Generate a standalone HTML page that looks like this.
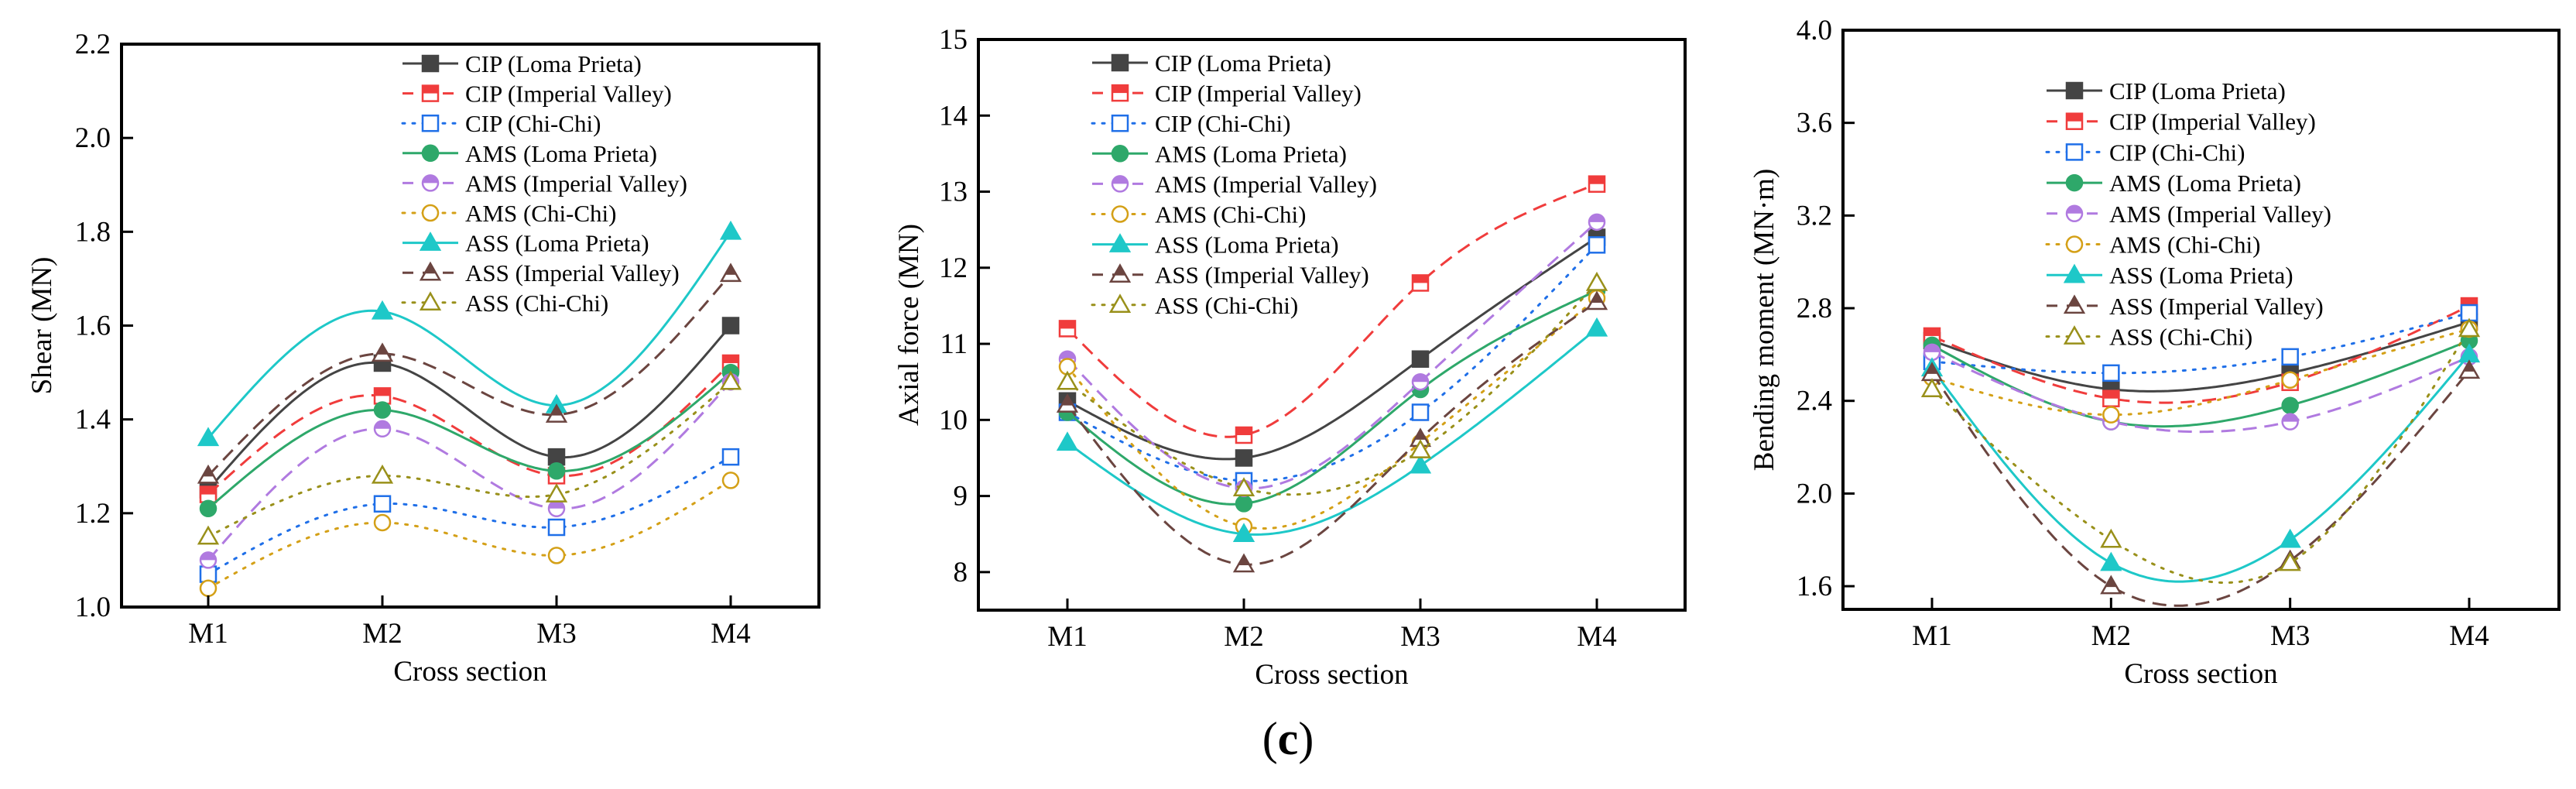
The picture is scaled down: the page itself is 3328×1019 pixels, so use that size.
<!DOCTYPE html>
<html><head><meta charset="utf-8">
<style>
html,body{margin:0;padding:0;background:#fff;}
svg{display:block;font-family:"Liberation Serif","Times New Roman",serif;}
svg text{font-family:"Liberation Serif","Times New Roman",serif;}
</style></head>
<body>
<svg id="fig" width="3328" height="1019" viewBox="0 0 3328 1019" font-family="Liberation Serif, serif"></svg>
<script>
const categories = ["M1","M2","M3","M4"];
const seriesNames = ["CIP (Loma Prieta)","CIP (Imperial Valley)","CIP (Chi-Chi)","AMS (Loma Prieta)","AMS (Imperial Valley)","AMS (Chi-Chi)","ASS (Loma Prieta)","ASS (Imperial Valley)","ASS (Chi-Chi)"];
// Shear (MN)
const shearCipLP = [1.25,1.52,1.32,1.60];
const shearCipIV = [1.24,1.45,1.28,1.52];
const shearCipCC = [1.07,1.22,1.17,1.32];
const shearAmsLP = [1.21,1.42,1.29,1.50];
const shearAmsIV = [1.10,1.38,1.21,1.48];
const shearAmsCC = [1.04,1.18,1.11,1.27];
const shearAssLP = [1.36,1.63,1.43,1.80];
const shearAssIV = [1.28,1.54,1.41,1.71];
const shearAssCC = [1.15,1.28,1.24,1.48];
const shearTicks = ["1.0","1.2","1.4","1.6","1.8","2.0","2.2"];
// Axial force (MN)
const axialCipLP = [10.25,9.5,10.8,12.4];
const axialCipIV = [11.2,9.8,11.8,13.1];
const axialCipCC = [10.1,9.2,10.1,12.3];
const axialAmsLP = [10.1,8.9,10.4,11.7];
const axialAmsIV = [10.8,9.1,10.5,12.6];
const axialAmsCC = [10.7,8.6,9.7,11.6];
const axialAssLP = [9.7,8.5,9.4,11.2];
const axialAssIV = [10.2,8.1,9.75,11.55];
const axialAssCC = [10.5,9.1,9.6,11.8];
const axialTicks = ["8","9","10","11","12","13","14","15"];
// Bending moment (MN·m)
const bendCipLP = [2.66,2.45,2.52,2.74];
const bendCipIV = [2.68,2.41,2.48,2.81];
const bendCipCC = [2.57,2.52,2.59,2.78];
const bendAmsLP = [2.64,2.31,2.38,2.66];
const bendAmsIV = [2.61,2.31,2.31,2.59];
const bendAmsCC = [2.50,2.34,2.49,2.71];
const bendAssLP = [2.54,1.70,1.80,2.60];
const bendAssIV = [2.52,1.60,1.71,2.53];
const bendAssCC = [2.45,1.80,1.70,2.71];
const bendTicks = ["1.6","2.0","2.4","2.8","3.2","3.6","4.0"];

const NS="http://www.w3.org/2000/svg";
const svg=document.getElementById('fig');
const colors=["#444444","#f03c3c","#1f6fe8","#2ea86a","#b07ae0","#d4a017","#1ec8c8","#6b4540","#99901a"];
const dashes=["","18,10","3,10","","18,10","3,10","","18,10","3,10"];
const shapes=["sq","sq","sq","ci","ci","ci","tr","tr","tr"];
const fills=["full","half","open","full","half","open","full","half","open"];
const FF='"Liberation Serif", "Times New Roman", serif';

function mk(tag,attrs,parent){const e=document.createElementNS(NS,tag);for(const k in attrs)e.setAttribute(k,attrs[k]);(parent||svg).appendChild(e);return e;}

function spline(xs,ys){
  const n=xs.length;const h=[],al=[0],l=[1],mu=[0],z=[0],c=new Array(n).fill(0),b=[],d=[];
  for(let i=0;i<n-1;i++)h.push(xs[i+1]-xs[i]);
  for(let i=1;i<n-1;i++)al.push(3/h[i]*(ys[i+1]-ys[i])-3/h[i-1]*(ys[i]-ys[i-1]));
  for(let i=1;i<n-1;i++){l[i]=2*(xs[i+1]-xs[i-1])-h[i-1]*mu[i-1];mu[i]=h[i]/l[i];z[i]=(al[i]-h[i-1]*z[i-1])/l[i];}
  l[n-1]=1;z[n-1]=0;
  for(let j=n-2;j>=0;j--){c[j]=z[j]-mu[j]*c[j+1];b[j]=(ys[j+1]-ys[j])/h[j]-h[j]*(c[j+1]+2*c[j])/3;d[j]=(c[j+1]-c[j])/(3*h[j]);}
  return t=>{let i=Math.min(n-2,Math.max(0,Math.floor(t)));const dx=t-xs[i];return ys[i]+b[i]*dx+c[i]*dx*dx+d[i]*dx*dx*dx;};
}

function marker(g,shape,fill,color,x,y){
  const s=10;
  let el;
  if(shape==="sq"){
    el=mk('rect',{x:x-s,y:y-s,width:2*s,height:2*s,fill:fill==="full"?color:"#fff",stroke:color,'stroke-width':2.5},g);
    if(fill==="half")mk('rect',{x:x-s,y:y-s,width:2*s,height:s,fill:color},g);
  }else if(shape==="ci"){
    el=mk('circle',{cx:x,cy:y,r:s,fill:fill==="full"?color:"#fff",stroke:color,'stroke-width':2.5},g);
    if(fill==="half")mk('path',{d:`M${x-s},${y} A${s},${s} 0 0 1 ${x+s},${y} Z`,fill:color},g);
  }else{
    const p=`${x},${y-s-2} ${x+s+2},${y+s-1} ${x-s-2},${y+s-1}`;
    el=mk('polygon',{points:p,fill:fill==="full"?color:"#fff",stroke:color,'stroke-width':2.5},g);
    if(fill==="half")mk('polygon',{points:`${x},${y-s-2} ${x+(s+2)*0.52},${y+1} ${x-(s+2)*0.52},${y+1}`,fill:color},g);
  }
  return el;
}

function drawChart(cfg){
  const g=mk('g',{});
  
  
  const {L,R,T,B,ymin,ymax,mx}=cfg;
  const yS=v=>B-(v-ymin)/(ymax-ymin)*(B-T);
  const xS=i=>mx[0]+(mx[3]-mx[0])*i/3;
  cfg.series.forEach((vals,k)=>{
    const sg=mk('g',{},g);
    
    
    const f=spline([0,1,2,3],vals);let d='';
    for(let t=0;t<=3.0001;t+=0.02){d+=(t===0?'M':'L')+xS(t).toFixed(1)+','+yS(f(t)).toFixed(1)+' ';}
    const p=mk('path',{d:d,fill:'none',stroke:colors[k],'stroke-width':3,'stroke-dasharray':dashes[k],'stroke-linecap':dashes[k]==="3,10"?'round':'butt'},sg);
    
    
    vals.forEach((v,i)=>{const m=marker(sg,shapes[k],fills[k],colors[k],xS(i),yS(v));
      
      });
  });
  const fr=mk('rect',{x:L,y:T,width:R-L,height:B-T,fill:'none',stroke:'#000','stroke-width':4},g);
  
  
  cfg.ticks.forEach(tl=>{const v=parseFloat(tl);const y=yS(v);
    mk('line',{x1:L,x2:L+15,y1:y,y2:y,stroke:'#000','stroke-width':3},g);
    const t=mk('text',{x:L-14,y:y+12,'font-size':37,'text-anchor':'end',fill:'#000','font-family':FF},g);t.textContent=tl;
    
    });
  categories.forEach((c,i)=>{const x=xS(i);
    mk('line',{x1:x,x2:x,y1:B,y2:B-15,stroke:'#000','stroke-width':3},g);
    const t=mk('text',{x:x,y:B+46,'font-size':37,'text-anchor':'middle',fill:'#000','font-family':FF},g);t.textContent=c;
    
    });
  const xt=mk('text',{x:(L+R)/2,y:B+95,'font-size':37,'text-anchor':'middle',fill:'#000','font-family':FF},g);xt.textContent='Cross section';
  
  
  const cy=(T+B)/2;
  const yt=mk('text',{x:cfg.ytx,y:cy,'font-size':37,'text-anchor':'middle',fill:'#000','font-family':FF,transform:`rotate(-90 ${cfg.ytx} ${cy})`},g);yt.textContent=cfg.ytitle;
  
  
  const lg=mk('g',{},g);
  
  
  seriesNames.forEach((n,k)=>{const y=cfg.leg.y0+k*cfg.leg.dy;const e=mk('g',{},lg);
    
    
    mk('line',{x1:cfg.leg.x,x2:cfg.leg.x+72,y1:y,y2:y,stroke:colors[k],'stroke-width':3,'stroke-dasharray':dashes[k]==="18,10"?"14,12":dashes[k],'stroke-linecap':dashes[k]==="3,10"?'round':'butt'},e);
    marker(e,shapes[k],fills[k],colors[k],cfg.leg.x+36,y);
    const t=mk('text',{x:cfg.leg.x+81,y:y+11,'font-size':31,fill:'#000','font-family':FF},e);t.textContent=n;});
}

drawChart({name:'shear-chart',L:157,R:1058,T:57,B:784,ymin:1.0,ymax:2.2,mx:[269,494,719,944],ticks:shearTicks,
  series:[shearCipLP,shearCipIV,shearCipCC,shearAmsLP,shearAmsIV,shearAmsCC,shearAssLP,shearAssIV,shearAssCC],
  ytitle:'Shear (MN)',ytx:66,leg:{x:520,y0:82,dy:38.6}});
drawChart({name:'axial-force-chart',L:1264,R:2177,T:51,B:788,ymin:7.5,ymax:15,mx:[1379,1607,1835,2063],ticks:axialTicks,
  series:[axialCipLP,axialCipIV,axialCipCC,axialAmsLP,axialAmsIV,axialAmsCC,axialAssLP,axialAssIV,axialAssCC],
  ytitle:'Axial force (MN)',ytx:1186,leg:{x:1411,y0:81,dy:39.1}});
drawChart({name:'bending-moment-chart',L:2381,R:3306,T:39,B:787,ymin:1.5,ymax:4.0,mx:[2496,2727,2958,3190],ticks:bendTicks,
  series:[bendCipLP,bendCipIV,bendCipCC,bendAmsLP,bendAmsIV,bendAmsCC,bendAssLP,bendAssIV,bendAssCC],
  ytitle:'Bending moment (MN·m)',ytx:2291,leg:{x:2644,y0:117,dy:39.7}});

const cap=mk('text',{x:1664,y:974,'font-size':60,'text-anchor':'middle',fill:'#000','font-family':FF});
cap.innerHTML='(<tspan font-weight="bold">c</tspan>)';


</script>
</body></html>
